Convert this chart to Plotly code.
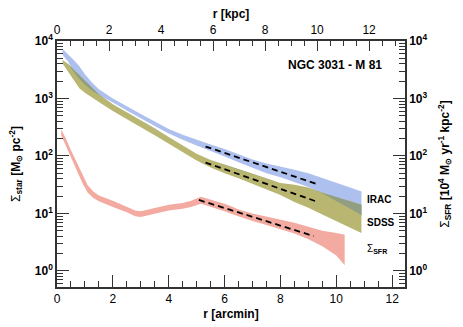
import numpy as np
import plotly.graph_objects as go

# radius grid (arcmin) shared by the two stellar profiles
r_star = [0.2, 0.4, 0.6, 0.8, 1.0, 1.25, 1.5, 2.0, 2.5, 3.0, 3.5, 4.0, 4.5,
          5.0, 5.5, 6.0, 6.5, 7.0, 7.5, 8.0, 8.5, 9.0, 9.5, 10.0, 10.5, 10.9]

# log10 Sigma_star (upper / lower edge of each band)
irac_hi = [3.86, 3.77, 3.67, 3.56, 3.42, 3.28, 3.16, 3.00, 2.86, 2.73, 2.60, 2.47, 2.37,
           2.28, 2.20, 2.12, 2.03, 1.94, 1.87, 1.82, 1.76, 1.70, 1.62, 1.53, 1.45, 1.38]
irac_lo = [3.76, 3.64, 3.46, 3.34, 3.24, 3.14, 3.06, 2.93, 2.79, 2.65, 2.52, 2.39, 2.28,
           2.18, 2.08, 1.99, 1.89, 1.79, 1.70, 1.63, 1.55, 1.46, 1.35, 1.22, 1.08, 0.97]
sdss_hi = [3.67, 3.60, 3.50, 3.40, 3.30, 3.19, 3.07, 2.90, 2.76, 2.62, 2.48, 2.33, 2.18,
           2.04, 1.93, 1.85, 1.76, 1.68, 1.60, 1.53, 1.50, 1.45, 1.36, 1.28, 1.21, 1.15]
sdss_lo = [3.61, 3.47, 3.32, 3.18, 3.10, 3.02, 2.94, 2.78, 2.64, 2.50, 2.36, 2.21, 2.07,
           1.92, 1.80, 1.70, 1.61, 1.51, 1.42, 1.32, 1.20, 1.10, 0.98, 0.86, 0.75, 0.66]

# SFR profile (log10)
r_sfr = [0.15, 0.3, 0.5, 0.7, 0.9, 1.1, 1.3, 1.5, 2.0, 2.5, 2.8, 3.0, 3.5, 4.0, 4.5,
         4.8, 5.15, 5.5, 6.0, 6.3, 6.5, 7.0, 7.5, 8.0, 8.5, 9.0, 9.5, 10.0, 10.3]
sfr_hi = [2.46, 2.32, 2.10, 1.89, 1.67, 1.49, 1.38, 1.31, 1.22, 1.12, 1.05, 1.04, 1.09, 1.15, 1.18,
          1.22, 1.29, 1.24, 1.17, 1.11, 1.07, 1.00, 0.95, 0.90, 0.84, 0.77, 0.70, 0.66, 0.63]
sfr_lo = [2.36, 2.20, 1.97, 1.76, 1.54, 1.36, 1.27, 1.21, 1.11, 1.02, 0.95, 0.94, 0.99, 1.05, 1.08,
          1.11, 1.17, 1.12, 1.04, 0.98, 0.94, 0.87, 0.80, 0.73, 0.65, 0.55, 0.43, 0.27, 0.10]

# exponential fits (dashed), end points in log10
fit_r_star = [5.32, 9.31]
fit_irac = [2.164, 1.510]
fit_sdss = [1.885, 1.204]
fit_r_sfr = [5.08, 9.19]
fit_sfr = [1.234, 0.606]

x_max = 12.46          # arcmin
kpc_per_arcmin = 1.074

c_irac = "#adc0ee"
c_sdss = "#b8b670"
c_both = "#919e82"
c_sfr = "#f3aba1"
axcol = "#333333"
FONT = "Liberation Sans, Arial, sans-serif"


def band(fig, r, hi, lo, color):
    r = np.asarray(r)
    fig.add_trace(go.Scatter(x=np.concatenate([r, r[::-1]]),
                             y=10 ** np.concatenate([np.asarray(hi), np.asarray(lo)[::-1]]),
                             fill="toself", fillcolor=color, mode="lines",
                             line=dict(width=0), hoverinfo="skip", showlegend=False))


fig = go.Figure()

band(fig, r_star, irac_hi, irac_lo, c_irac)
band(fig, r_star, sdss_hi, sdss_lo, c_sdss)
# where the two stellar bands overlap
ov_hi = np.minimum(irac_hi, sdss_hi)
ov_lo = np.maximum(irac_lo, sdss_lo)
ov_lo = np.where(ov_lo > ov_hi, ov_hi, ov_lo)
band(fig, r_star, ov_hi, ov_lo, c_both)
band(fig, r_sfr, sfr_hi, sfr_lo, c_sfr)

for xx, yy in [(fit_r_star, fit_irac), (fit_r_star, fit_sdss), (fit_r_sfr, fit_sfr)]:
    fig.add_trace(go.Scatter(x=xx, y=10 ** np.asarray(yy), mode="lines",
                             line=dict(color="black", width=1.8, dash="6px,4px"),
                             hoverinfo="skip", showlegend=False))

# dummy traces so the top / right axes get drawn
fig.add_trace(go.Scatter(x=[0], y=[1], xaxis="x2", yaxis="y", mode="markers",
                         marker=dict(opacity=0), showlegend=False, hoverinfo="skip"))
fig.add_trace(go.Scatter(x=[0], y=[1], xaxis="x", yaxis="y2", mode="markers",
                         marker=dict(opacity=0), showlegend=False, hoverinfo="skip"))

dec_vals = [1, 10, 100, 1000, 10000]
dec_text = ["<b>10<sup>%d</sup></b>" % i for i in range(5)]
minor_vals = [m * 10 ** e for e in range(-1, 4) for m in range(2, 10)]

yax = dict(type="log", range=[-0.28, 4], tickmode="array", tickvals=dec_vals, ticktext=dec_text,
           ticks="inside", ticklen=12, tickwidth=1.3, tickcolor=axcol,
           minor=dict(tickmode="array", tickvals=minor_vals, ticks="inside", ticklen=6,
                      tickwidth=1.1, tickcolor=axcol),
           showline=True, linecolor=axcol, linewidth=1.5, showgrid=False, zeroline=False,
           automargin=False, tickfont=dict(size=12, color="black", family=FONT))

fig.update_layout(
    width=463, height=327,
    margin=dict(l=57, r=58, t=41, b=40),
    plot_bgcolor="white", paper_bgcolor="white",
    showlegend=False,
    font=dict(family=FONT, color="black"),
    xaxis=dict(range=[0, x_max], tickmode="linear", tick0=0, dtick=2,
               ticks="inside", ticklen=12, tickwidth=1.3, tickcolor=axcol,
               minor=dict(dtick=0.5, ticks="inside", ticklen=6, tickwidth=1.1, tickcolor=axcol),
               showline=True, linecolor=axcol, linewidth=1.5, showgrid=False, zeroline=False,
               automargin=False, tickfont=dict(size=12, color="black", family=FONT),
               title=dict(text="<b>r [arcmin]</b>", font=dict(size=12), standoff=4)),
    xaxis2=dict(range=[0, x_max * kpc_per_arcmin], overlaying="x", side="top",
                tickmode="linear", tick0=0, dtick=2,
                ticks="inside", ticklen=10, tickwidth=1.3, tickcolor=axcol,
                minor=dict(dtick=0.5, ticks="inside", ticklen=5, tickwidth=1.1, tickcolor=axcol),
                showline=True, linecolor=axcol, linewidth=1.5, showgrid=False, zeroline=False,
                automargin=False, tickfont=dict(size=12, color="black", family=FONT),
                title=dict(text="<b>r [kpc]</b>", font=dict(size=12), standoff=2)),
    yaxis=dict(yax, title=dict(text="Σ<sub><b>star</b></sub> <b>[M<sub>⊙</sub> pc<sup>-2</sup>]</b>",
                               font=dict(size=12), standoff=12)),
    yaxis2=dict(yax, overlaying="y", side="right",
                title=dict(text="Σ<sub><b>SFR</b></sub> <b>[10<sup>4</sup> M<sub>⊙</sub> yr<sup>-1</sup> kpc<sup>-2</sup>]</b>",
                           font=dict(size=12), standoff=14)),
)

fig.add_annotation(x=0.94, y=0.902, xref="paper", yref="paper", xanchor="right", yanchor="middle",
                   text="<b>NGC 3031 - M 81</b>", showarrow=False, font=dict(size=12))
for txt, ly in [("<b>IRAC</b>", 1.25), ("<b>SDSS</b>", 0.85), ("Σ<sub><b>SFR</b></sub>", 0.38)]:
    fig.add_annotation(x=11.03, y=ly, xref="x", yref="y", xanchor="left", yanchor="middle",
                       text=txt, showarrow=False, font=dict(size=10))

# drop the page's default body margin so the figure sits at the window's corner
fig.write_html("out.html", config={"displayModeBar": False},
               post_script="document.body.style.margin='0';")
